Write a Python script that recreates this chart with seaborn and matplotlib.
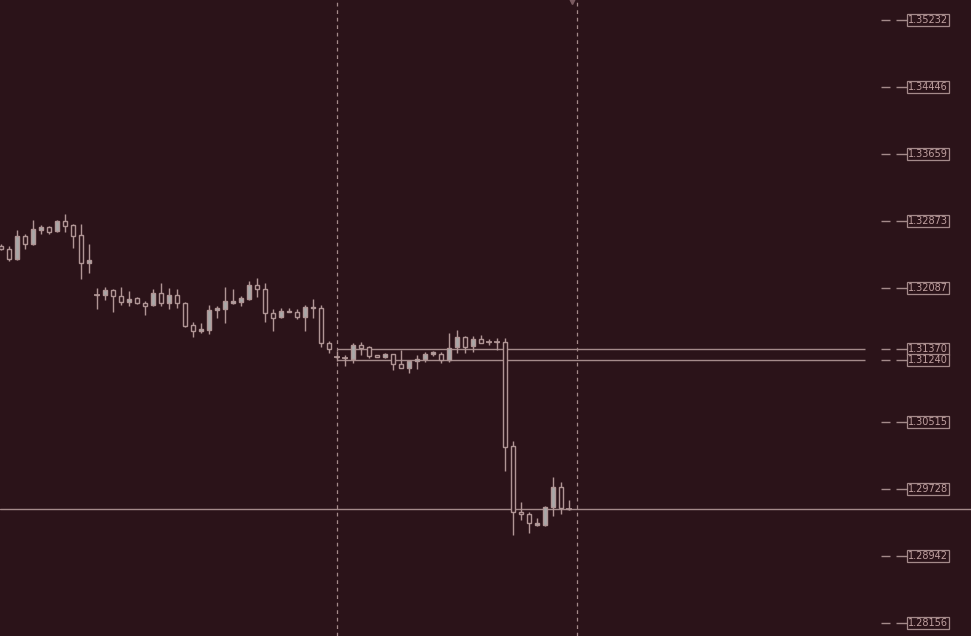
import numpy as np
import pandas as pd
import matplotlib
matplotlib.use("Agg")
import matplotlib.pyplot as plt
import seaborn as sns

# candle data, one entry per bar
opens = [1.32580, 1.32545, 1.32427, 1.32697, 1.32603, 1.32768, 1.32803, 1.32756, 1.32873, 1.32826,
         1.32709, 1.32380, 1.32005, 1.32005, 1.32064, 1.31993, 1.31923, 1.31970, 1.31911, 1.31887,
         1.32028, 1.31911, 1.32005, 1.31911, 1.31653, 1.31582, 1.31594, 1.31829, 1.31841, 1.31911,
         1.31923, 1.31958, 1.32122, 1.32075, 1.31794, 1.31747, 1.31805, 1.31805, 1.31747, 1.31852,
         1.31852, 1.31442, 1.31277, 1.31266, 1.31254, 1.31418, 1.31395, 1.31301, 1.31277, 1.31313,
         1.31195, 1.31148, 1.31230, 1.31254, 1.31313, 1.31313, 1.31242, 1.31395, 1.31512, 1.31406,
         1.31489, 1.31453, 1.31453, 1.31453, 1.30233, 1.29458, 1.29435, 1.29306, 1.29306, 1.29517,
         1.29752, 1.29494]
highs = [1.32603, 1.32580, 1.32768, 1.32721, 1.32885, 1.32826, 1.32815, 1.32885, 1.32955, 1.32838,
         1.32838, 1.32603, 1.32087, 1.32099, 1.32075, 1.32099, 1.32052, 1.31981, 1.31934, 1.32075,
         1.32146, 1.32087, 1.32075, 1.31923, 1.31688, 1.31676, 1.31887, 1.31876, 1.32099, 1.32075,
         1.31993, 1.32169, 1.32204, 1.32146, 1.31841, 1.31852, 1.31852, 1.31841, 1.31887, 1.31958,
         1.31887, 1.31465, 1.31348, 1.31301, 1.31442, 1.31453, 1.31406, 1.31301, 1.31324, 1.31313,
         1.31359, 1.31230, 1.31301, 1.31336, 1.31348, 1.31336, 1.31559, 1.31594, 1.31524, 1.31524,
         1.31535, 1.31489, 1.31500, 1.31500, 1.30292, 1.29576, 1.29458, 1.29388, 1.29529, 1.29869,
         1.29810, 1.29599]
lows = [1.32533, 1.32404, 1.32416, 1.32545, 1.32592, 1.32721, 1.32721, 1.32744, 1.32744, 1.32556,
        1.32193, 1.32263, 1.31841, 1.31946, 1.31805, 1.31887, 1.31876, 1.31899, 1.31770, 1.31876,
        1.31876, 1.31841, 1.31852, 1.31629, 1.31512, 1.31559, 1.31547, 1.31735, 1.31676, 1.31899,
        1.31876, 1.31946, 1.31981, 1.31688, 1.31582, 1.31735, 1.31800, 1.31723, 1.31582, 1.31735,
        1.31395, 1.31324, 1.31230, 1.31172, 1.31207, 1.31301, 1.31266, 1.31277, 1.31266, 1.31125,
        1.31148, 1.31090, 1.31137, 1.31219, 1.31289, 1.31207, 1.31219, 1.31324, 1.31324, 1.31336,
        1.31442, 1.31418, 1.31359, 1.29940, 1.29189, 1.29365, 1.29212, 1.29294, 1.29294, 1.29411,
        1.29435, 1.29482]
closes = [1.32545, 1.32427, 1.32697, 1.32603, 1.32779, 1.32803, 1.32744, 1.32873, 1.32815, 1.32697,
          1.32380, 1.32416, 1.32005, 1.32064, 1.31993, 1.31923, 1.31958, 1.31911, 1.31876, 1.32028,
          1.31911, 1.32005, 1.31911, 1.31641, 1.31582, 1.31606, 1.31829, 1.31852, 1.31934, 1.31934,
          1.31970, 1.32122, 1.32075, 1.31794, 1.31735, 1.31817, 1.31817, 1.31747, 1.31864, 1.31864,
          1.31442, 1.31371, 1.31277, 1.31266, 1.31418, 1.31383, 1.31289, 1.31277, 1.31313, 1.31195,
          1.31148, 1.31230, 1.31254, 1.31313, 1.31336, 1.31242, 1.31383, 1.31512, 1.31395, 1.31489,
          1.31442, 1.31453, 1.31453, 1.30221, 1.29458, 1.29435, 1.29329, 1.29329, 1.29517, 1.29752,
          1.29505, 1.29494]

# price scale labels on the right
tick_values = [1.35232, 1.34446, 1.33659, 1.32873, 1.32087, 1.30515, 1.29728, 1.28942, 1.28156]
level_lines = [1.31370, 1.31240]
last_price = 1.29494
period_marks = [42, 72]

df = pd.DataFrame({"open": opens, "high": highs, "low": lows, "close": closes})
df["idx"] = np.arange(len(df))
df["bull"] = df["close"] > df["open"]
df["body_lo"] = df[["open", "close"]].min(axis=1)
df["body_h"] = (df["open"] - df["close"]).abs()

bg = "#2b1319"
edge = "#b09595"
fill = "#a8a8a8"
line_c = "#a48a8a"
txt_c = "#c0a0a0"

sns.set_theme(style="dark", rc={"axes.facecolor": bg, "figure.facecolor": bg,
                                "axes.grid": False})

fig = plt.figure(figsize=(9.71, 6.36), dpi=100)
ax = fig.add_axes([0, 0, 1, 1])
ax.set_facecolor(bg)

# wicks
ax.vlines(df["idx"], df["low"], df["high"], color=edge, lw=1, zorder=2)
# bodies: bull filled grey, bear hollow
ax.bar(df["idx"], df["body_h"], bottom=df["body_lo"], width=0.5,
       color=[fill if b else bg for b in df["bull"]],
       edgecolor=edge, linewidth=1, zorder=3)
# doji bars
dj = df[df["body_h"] < 1e-5]
ax.hlines(dj["close"], dj["idx"] - 0.32, dj["idx"] + 0.32, color=edge, lw=1.2, zorder=4)

# markup
for v in period_marks:
    ax.axvline(v, color=line_c, lw=0.9, ls=(0, (3, 3)), zorder=1)
ax.axhline(last_price, color=line_c, lw=1, zorder=1)
ax.hlines(level_lines, period_marks[0], 108, color=line_c, lw=1, zorder=1)
ax.plot([71.4], [1.3545], marker="v", ms=5, color="#7a5a60", zorder=5)

# right-side price labels
for v in tick_values + level_lines:
    ax.hlines(v, 110.0, 111.1, color=line_c, lw=1)
    ax.hlines(v, 111.9, 113.3, color=line_c, lw=1)
    ax.text(113.35, v, f"{v:.5f}", fontsize=7, color=txt_c, va="center", ha="left",
            family="DejaVu Sans",
            bbox=dict(boxstyle="square,pad=0.12", fc=bg, ec=line_c, lw=0.9))

ax.set_xlim(-0.125, 121.25)
ax.set_ylim(1.28003, 1.35467)
ax.set_xticks([])
ax.set_yticks([])
for s in ax.spines.values():
    s.set_visible(False)

fig.savefig("out.png", dpi=100, facecolor=bg)
